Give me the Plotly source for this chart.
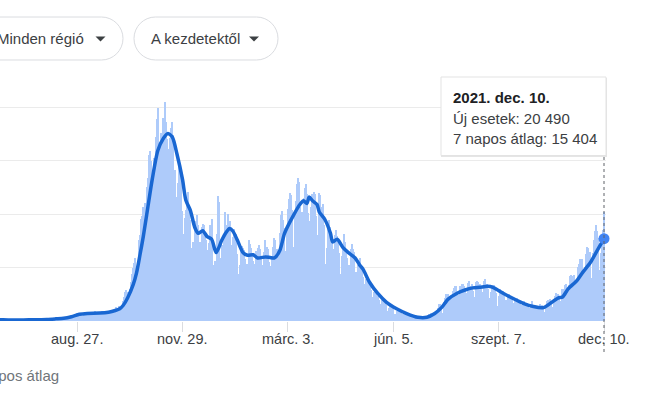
import plotly.graph_objects as go
import pandas as pd

# ---------------- data ----------------
# daily new cases, Monday-based weeks, starting 2020-06-15
cases_2020 = [
    301, 210, 329, 333, 251, 262, 224,
    218, 122, 190, 296, 259, 175, 174,
    126, 142, 182, 201, 223, 235, 192,
    208, 138, 193, 229, 276, 188, 234,
    169, 114, 162, 230, 233, 249, 219,
    190, 129, 282, 306, 252, 275, 255,
    170, 212, 289, 386, 379, 295, 239,
    159, 190, 384, 402, 552, 347, 463,
    259, 412, 481, 523, 574, 629, 479,
    320, 403, 642, 845, 947, 1071, 1210,
    953, 878, 1367, 1411, 1462, 1444, 1365,
    996, 978, 1326, 1397, 1733, 1694, 1297,
    1108, 1370, 1434, 1597, 1616, 1907, 1458,
    1008, 1229, 1452, 1585, 1907, 1638, 1587,
    1350, 1392, 1640, 1786, 1912, 1869, 1766,
    1494, 1648, 1851, 2548, 2499, 2844, 2578,
    2257, 2677, 3678, 4458, 5372, 5724, 5456,
    4619, 5901, 7332, 8804, 10010, 10925, 11705,
    9338, 10874, 15199, 16079, 19143, 19644, 21273,
    17012, 21994, 24991, 26831, 31084, 31758, 29907,
    22253, 28244, 30550, 34505, 37809, 39811, 32616,
    25271, 35098, 32961, 37978, 40902, 37255, 33979,
    27354, 32191, 34283, 36176, 37242, 34767, 28337,
    22930, 23232, 25853, 29003, 28352, 26323, 20648,
    16377, 19350, 20709, 23225, 24099, 21052, 18887,
    13720, 14842, 12756, 16999, 18727, 19903, 17938,
    12030, 14844, 17572, 18236, 17992, 16308, 15104,
    10872, 13318, 14522, 18040, 19037, 10407, 8913,
    11210, 11212, 16202, 23477,
]
cases_2021 = [
    22211, 11831, 14245,
    10800, 15378, 20331, 18020, 17533, 19978, 18627,
    12532, 14242, 15774, 17246, 16146, 16310, 12545,
    8824, 10497, 13571, 14078, 13633, 13331, 11629,
    8562, 10593, 15204, 14372, 13574, 12715, 11252,
    7925, 10630, 13189, 13659, 14218, 13442, 11641,
    7970, 10404, 12956, 15146, 13908, 13532, 11068,
    7351, 10386, 12074, 13762, 15479, 15074, 13452,
    9630, 13314, 16424, 19886, 20499, 18916, 17455,
    13114, 17083, 20884, 22865, 24036, 23641, 20765,
    13902, 19749, 22409, 25673, 26824, 26062, 21315,
    15267, 20396, 23059, 24935, 25735, 23832, 20159,
    13846, 18765, 21267, 23696, 24076, 23839, 19611,
    12916, 16017, 23904, 23649, 21261, 21932, 18025,
    10680, 7767, 13708, 17221, 18938, 17567, 15746,
    9789, 13447, 16168, 16974, 15943, 15370, 12694,
    8864, 12074, 13844, 16232, 14761, 13158, 11807,
    8444, 10404, 13385, 14320, 13446, 12965, 9148,
    5948, 9116, 10404, 11807, 10554, 10176, 8292,
    5080, 6946, 7852, 8085, 7567, 7369, 5753,
    3455, 4452, 5506, 5741, 5218, 4717, 3995,
    2490, 3224, 3937, 4147, 3738, 3351, 2949,
    1820, 2483, 2897, 2557, 2436, 2275, 1390,
    1273, 1896, 2199, 2079, 1901, 1723, 1390,
    907, 1255, 1400, 1197, 1325, 1197, 881,
    495, 835, 951, 927, 1061, 794, 679,
    389, 679, 776, 882, 856, 932, 808,
    480, 907, 1394, 1390, 1552, 1460, 1391,
    888, 1554, 2153, 2455, 3127, 3121, 2331,
    1526, 3558, 4259, 5057, 5143, 5140, 4743,
    3117, 4522, 5696, 6171, 6513, 6599, 5321,
    3190, 4845, 6596, 6968, 6838, 6599, 5676,
    3706, 5273, 7162, 7409, 6618, 6985, 5529,
    3662, 4456, 7260, 7548, 7224, 6860, 6070,
    4168, 5498, 7548, 7826, 6933, 6860, 6082,
    4257, 5498, 6503, 6761, 6735, 6157, 5315,
    2800, 4720, 5923, 5191, 5193, 5621, 4664,
    2800, 4021, 4830, 5117, 4552, 4408, 3989,
    2407, 3377, 4061, 4226, 3797, 3804, 3212,
    2475, 2985, 3312, 3804, 3405, 3312, 2900,
    1612, 2466, 3235, 3794, 2772, 2748, 2494,
    1428, 2278, 2697, 3215, 2732, 2983, 2437,
    1597, 2535, 3702, 3882, 3794, 4054, 3725,
    2535, 3380, 4598, 5335, 4866, 5123, 4526,
    2818, 3654, 5905, 6032, 6764, 6879, 5822,
    3912, 6764, 8516, 8569, 8516, 8544, 7569,
    5144, 7698, 10172, 10638, 11555, 11602, 9709,
    6404, 10047, 12448, 13764, 13686, 12877, 12932,
    7975, 12764, 15085, 16806, 17959, 16848, 15489,
    9503, 12712, 15756, 17030, 20490,
]

# 7-day average
avg_dates = [
    "2020-06-15", "2020-06-22", "2020-07-01", "2020-07-10", "2020-07-20", "2020-07-31",
    "2020-08-08", "2020-08-15", "2020-08-22", "2020-08-29", "2020-09-05", "2020-09-16",
    "2020-09-24", "2020-09-30", "2020-10-04", "2020-10-07", "2020-10-11", "2020-10-16",
    "2020-10-19", "2020-10-22", "2020-10-25", "2020-10-28", "2020-11-02", "2020-11-07",
    "2020-11-12", "2020-11-16", "2020-11-20", "2020-11-24", "2020-11-29", "2020-12-02",
    "2020-12-06", "2020-12-10", "2020-12-13", "2020-12-17", "2020-12-21", "2020-12-25",
    "2020-12-29", "2021-01-03", "2021-01-07", "2021-01-10", "2021-01-13", "2021-01-17",
    "2021-01-22", "2021-01-26", "2021-01-31", "2021-02-04", "2021-02-11", "2021-02-15",
    "2021-02-19", "2021-02-24", "2021-02-28", "2021-03-07", "2021-03-14", "2021-03-17",
    "2021-03-20", "2021-03-22", "2021-03-25", "2021-03-29", "2021-03-31", "2021-04-05",
    "2021-04-10", "2021-04-12", "2021-04-16", "2021-04-21", "2021-04-26", "2021-05-02",
    "2021-05-06", "2021-05-09", "2021-05-15", "2021-05-22", "2021-05-30", "2021-06-08",
    "2021-06-17", "2021-06-27", "2021-07-05", "2021-07-12", "2021-07-18", "2021-07-24",
    "2021-08-01", "2021-08-08", "2021-08-15", "2021-08-21", "2021-08-28", "2021-09-02",
    "2021-09-11", "2021-09-20", "2021-09-29", "2021-10-08", "2021-10-17", "2021-10-23",
    "2021-10-30", "2021-11-03", "2021-11-08", "2021-11-16", "2021-11-21", "2021-11-28",
    "2021-12-04", "2021-12-10",
]
avg_values = [
    260, 230, 190, 200, 230, 300,
    400, 500, 800, 1250, 1420, 1480,
    1650, 1970, 2300, 2900, 4300, 6800,
    9000, 12300, 15800, 19800, 26500, 31900,
    34200, 35100, 34400, 31300, 26500, 22600,
    20700, 17500, 16400, 16900, 15800, 15300,
    12800, 15100, 16600, 17300, 16800, 15100,
    12800, 12300, 12400, 11800, 12000, 11900,
    11800, 13300, 16400, 19400, 21900, 22500,
    22000, 23200, 22500, 21800, 20400, 19000,
    16400, 14800, 15300, 13800, 12800, 11800,
    10500, 9700, 7200, 5200, 3500, 2300,
    1400, 700, 700, 1400, 2500, 4100,
    5200, 5800, 6200, 6300, 6500, 6300,
    5200, 4200, 3300, 2700, 2500, 3300,
    4300, 4500, 6000, 7600, 9100, 11000,
    13200, 15404,
]

tick_dates = ["2020-08-27", "2020-11-29", "2021-03-03", "2021-06-05", "2021-09-07", "2021-12-10"]
tick_labels = ["aug. 27.", "nov. 29.", "márc. 3.", "jún. 5.", "szept. 7.", "dec. 10."]

sel_date = "2021-12-10"
sel_label = "2021. dec. 10."
sel_new = "20 490"
sel_avg_text = "15 404"
sel_avg = 15404

# ---------------- layout helpers ----------------
W, H = 668, 393
ML, MR, MT, MB = 0, 62, 95, 72
PW = W - ML - MR
PH = H - MT - MB
FONT = "Liberation Sans, Arial, sans-serif"


def px(x):
    return (x - ML) / PW


def py(y):
    return (H - MB - y) / PH


def pill(x0, y0, x1, y1):
    r = (y1 - y0) / 2
    k = 0.5523 * r
    pts = [
        ("M", [(x0 + r, y0)]),
        ("L", [(x1 - r, y0)]),
        ("C", [(x1 - r + k, y0), (x1, y0 + r - k), (x1, y0 + r)]),
        ("C", [(x1, y0 + r + k), (x1 - r + k, y1), (x1 - r, y1)]),
        ("L", [(x0 + r, y1)]),
        ("C", [(x0 + r - k, y1), (x0, y0 + r + k), (x0, y0 + r)]),
        ("C", [(x0, y0 + r - k), (x0 + r - k, y0), (x0 + r, y0)]),
    ]
    s = ""
    for cmd, ps in pts:
        s += cmd + " " + " ".join(f"{px(a):.5f},{py(b):.5f}" for a, b in ps) + " "
    return s + "Z"


def tri(cx, cy):
    return (f"M {px(cx-5):.5f},{py(cy-2.5):.5f} L {px(cx+5):.5f},{py(cy-2.5):.5f} "
            f"L {px(cx):.5f},{py(cy+2.5):.5f} Z")


dates = list(pd.date_range("2020-06-15", periods=len(cases_2020))) + \
    list(pd.date_range("2021-01-01", periods=len(cases_2021)))
cases = cases_2020 + cases_2021

fig = go.Figure()
fig.add_trace(go.Bar(x=dates, y=cases, marker=dict(color="#aecbfa", line=dict(width=0)),
                     hoverinfo="skip"))
fig.add_trace(go.Scatter(x=pd.to_datetime(avg_dates), y=avg_values, mode="lines",
                         line=dict(color="#1967d2", width=3.5, shape="spline", smoothing=0.7),
                         hoverinfo="skip"))
fig.add_trace(go.Scatter(x=[pd.Timestamp(sel_date)], y=[sel_avg], mode="markers",
                         marker=dict(color="#4285f4", size=11), cliponaxis=False,
                         hoverinfo="skip"))

shapes = []
# buttons
shapes.append(dict(type="path", xref="paper", yref="paper", path=pill(-40, 17, 123, 60),
                   line=dict(color="#dadce0", width=1), fillcolor="white", layer="above"))
shapes.append(dict(type="path", xref="paper", yref="paper", path=pill(134, 17, 278, 60),
                   line=dict(color="#dadce0", width=1), fillcolor="white", layer="above"))
shapes.append(dict(type="path", xref="paper", yref="paper", path=tri(100.5, 39),
                   line=dict(width=0), fillcolor="#3c4043", layer="above"))
shapes.append(dict(type="path", xref="paper", yref="paper", path=tri(254, 39),
                   line=dict(width=0), fillcolor="#3c4043", layer="above"))
# dotted selection line
shapes.append(dict(type="line", xref="x", yref="paper", x0=sel_date, x1=sel_date,
                   y0=py(352), y1=py(155), line=dict(color="#5f6368", width=1, dash="dot"),
                   layer="above"))
# tooltip shadow + box
shapes.append(dict(type="rect", xref="paper", yref="paper", x0=px(441), x1=px(607),
                   y0=py(157), y1=py(78), line=dict(width=0),
                   fillcolor="rgba(0,0,0,0.10)", layer="above"))
shapes.append(dict(type="rect", xref="paper", yref="paper", x0=px(441), x1=px(606),
                   y0=py(155.5), y1=py(77), line=dict(color="#e3e3e3", width=1),
                   fillcolor="white", layer="above"))

annotations = [
    dict(text="Minden régió", x=px(86), y=py(38.5), xref="paper", yref="paper",
         xanchor="right", yanchor="middle", showarrow=False,
         font=dict(family=FONT, size=15, color="#3c4043")),
    dict(text="A kezdetektől", x=px(149), y=py(38.5), xref="paper", yref="paper",
         xanchor="left", yanchor="middle", showarrow=False,
         font=dict(family=FONT, size=15, color="#3c4043")),
    dict(text=f"<b>{sel_label}</b>", x=px(451), y=py(97), xref="paper", yref="paper",
         xanchor="left", yanchor="middle", showarrow=False,
         font=dict(family=FONT, size=15, color="#202124")),
    dict(text=f"Új esetek: {sel_new}", x=px(451), y=py(118), xref="paper", yref="paper",
         xanchor="left", yanchor="middle", showarrow=False,
         font=dict(family=FONT, size=15, color="#3c4043")),
    dict(text=f"7 napos átlag: {sel_avg_text}", x=px(451), y=py(138), xref="paper",
         yref="paper", xanchor="left", yanchor="middle", showarrow=False,
         font=dict(family=FONT, size=15, color="#3c4043")),
    dict(text="7 napos átlag", x=px(61), y=py(375), xref="paper", yref="paper",
         xanchor="right", yanchor="middle", showarrow=False,
         font=dict(family=FONT, size=15, color="#70757a")),
]
for d, lab in zip(tick_dates, tick_labels):
    annotations.append(dict(text=lab, x=d, y=py(338.5), xref="x", yref="paper",
                            xanchor="center", yanchor="middle", showarrow=False,
                            font=dict(family=FONT, size=14.5, color="#3c4043")))

fig.update_layout(
    width=W, height=H,
    margin=dict(l=ML, r=MR, t=MT, b=MB, pad=0),
    paper_bgcolor="white", plot_bgcolor="white",
    showlegend=False, bargap=0, hovermode=False,
    shapes=shapes, annotations=annotations,
    font=dict(family=FONT),
    xaxis=dict(type="date", range=["2020-06-19 04:48", "2021-12-11 18:40"],
               tickvals=tick_dates, showticklabels=False, showgrid=False, zeroline=False,
               ticks="outside", ticklen=10, tickcolor="#dadce0", tickwidth=1,
               showline=False),
    yaxis=dict(range=[0, 42300], tickvals=[0, 10000, 20000, 30000, 40000],
               showticklabels=False, showgrid=True, gridcolor="#ebebeb", gridwidth=1,
               zeroline=False, showline=False),
)

fig.write_html("out.html", config={"displayModeBar": False},
               post_script="document.body.style.margin='0px';")
